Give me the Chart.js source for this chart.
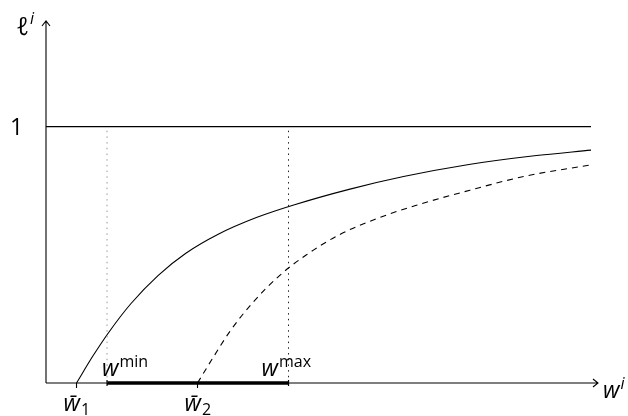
<!DOCTYPE html>
<html>
<head>
<meta charset="utf-8">
<script src="https://cdn.jsdelivr.net/npm/chart.js@4/dist/chart.umd.min.js"></script>
<style>
  body { margin: 0; background: #fff; }
</style>
</head>
<body>
<canvas id="myChart" width="628" height="416"></canvas>
<script>
// DATA
// wage axis runs 0..10, labour supply 0..1.4
var solidX = [0.56, 0.86, 1.16, 1.56, 2.06, 2.56, 3.16, 3.86, 4.56, 5.56, 6.56, 7.76, 8.96, 10.0];
var solidY = [0, 0.105, 0.20, 0.31, 0.42, 0.505, 0.58, 0.645, 0.695, 0.755, 0.805, 0.852, 0.886, 0.908];
var dashedX = [2.78, 3.08, 3.38, 3.78, 4.28, 4.78, 5.38, 6.08, 6.78, 7.78, 8.78, 10.0];
var dashedY = [0, 0.104, 0.203, 0.31, 0.418, 0.50, 0.578, 0.642, 0.692, 0.752, 0.806, 0.851];
var wBar = [0.56, 2.78];      // w̄1, w̄2
var wRange = [1.12, 4.45];    // w^min, w^max
var oneLevel = 1;
var xEnd = 10, yEnd = 1.4;

function pts(xs, ys) {
    return xs.map(function (x, i) { return { x: x, y: ys[i] }; });
}

var FONT = '"Open Sans", "DejaVu Sans", sans-serif';

// draws base text followed by a raised/lowered smaller part
function mathLabel(ctx, x, y, base, small, dy, size) {
    ctx.font = 'italic ' + (size || 23) + 'px ' + FONT;
    ctx.fillText(base, x, y);
    var w = ctx.measureText(base).width;
    ctx.font = (/^[a-z]$/.test(small) ? 'italic ' : '') + '16px ' + FONT;
    ctx.fillText(small, x + w + 1, y + dy);
}

var axesPlugin = {
    id: 'axes',
    beforeDatasetsDraw: function (chart) {
        var ctx = chart.ctx;
        var xs = chart.scales.x, ys = chart.scales.y;
        var x0 = xs.getPixelForValue(0), y0 = ys.getPixelForValue(0);
        var xe = xs.getPixelForValue(xEnd) + 7, ye = ys.getPixelForValue(yEnd) - 3;
        ctx.save();
        ctx.strokeStyle = '#000';
        ctx.lineWidth = 1.1;
        ctx.beginPath();
        ctx.moveTo(x0, y0); ctx.lineTo(xe, y0);
        ctx.moveTo(x0, y0); ctx.lineTo(x0, ye);
        // arrow heads
        ctx.moveTo(xe - 5, y0 - 4); ctx.lineTo(xe, y0); ctx.lineTo(xe - 5, y0 + 4);
        ctx.moveTo(x0 - 4, ye + 5); ctx.lineTo(x0, ye); ctx.lineTo(x0 + 4, ye + 5);
        // small ticks at w̄1, w̄2
        wBar.forEach(function (v) {
            var p = xs.getPixelForValue(v);
            ctx.moveTo(p, y0); ctx.lineTo(p, y0 + 5);
        });
        ctx.stroke();
        ctx.restore();
    },
    afterDraw: function (chart) {
        var ctx = chart.ctx;
        var xs = chart.scales.x, ys = chart.scales.y;
        var y0 = ys.getPixelForValue(0);
        ctx.save();
        // end bars of the thick segment
        ctx.strokeStyle = '#000';
        ctx.lineWidth = 1.2;
        ctx.beginPath();
        wRange.forEach(function (v) {
            var p = xs.getPixelForValue(v);
            ctx.moveTo(p, y0 - 3); ctx.lineTo(p, y0 + 3);
        });
        ctx.stroke();

        ctx.fillStyle = '#000';
        ctx.textBaseline = 'alphabetic';
        ctx.textAlign = 'left';
        // y axis label
        mathLabel(ctx, 16, 35, '\u2113', 'i', -11, 25);
        // level 1
        ctx.font = '23px ' + FONT;
        ctx.fillText('1', 10, ys.getPixelForValue(oneLevel) + 8);
        // w^min, w^max
        mathLabel(ctx, xs.getPixelForValue(wRange[0]) - 5, y0 - 7, 'w', 'min', -9);
        mathLabel(ctx, xs.getPixelForValue(wRange[1]) - 27, y0 - 7, 'w', 'max', -9);
        // w̄1, w̄2
        mathLabel(ctx, xs.getPixelForValue(wBar[0]) - 13, y0 + 28, 'w\u0304', '1', 4);
        mathLabel(ctx, xs.getPixelForValue(wBar[1]) - 13, y0 + 28, 'w\u0304', '2', 4);
        // x axis label
        mathLabel(ctx, xs.getPixelForValue(xEnd) + 12, y0 + 15, 'w', 'i', -9);
        ctx.restore();
    }
};

var ctx = document.getElementById('myChart').getContext('2d');
var chart = new Chart(ctx, {
    type: 'scatter',
    data: {
        datasets: [
            {
                data: pts([0, xEnd], [oneLevel, oneLevel]),
                borderColor: '#000', borderWidth: 1.3
            },
            {
                data: pts([wRange[0], wRange[0]], [0, oneLevel]),
                borderColor: '#999', borderWidth: 1, borderDash: [1.5, 4.2]
            },
            {
                data: pts([wRange[1], wRange[1]], [0, oneLevel]),
                borderColor: '#222', borderWidth: 1, borderDash: [1.5, 4.2]
            },
            {
                data: pts(solidX, solidY),
                borderColor: '#000', borderWidth: 1.1,
                cubicInterpolationMode: 'monotone'
            },
            {
                data: pts(dashedX, dashedY),
                borderColor: '#000', borderWidth: 1.1, borderDash: [6, 5],
                cubicInterpolationMode: 'monotone'
            },
            {
                data: pts(wRange, [0, 0]),
                borderColor: '#000', borderWidth: 3.5
            }
        ]
    },
    options: {
        responsive: false,
        animation: false,
        devicePixelRatio: 1,
        showLine: true,
        clip: false,
        elements: { point: { radius: 0 } },
        layout: { padding: { left: 46, right: 37, top: 24, bottom: 33 } },
        scales: {
            x: { type: 'linear', min: 0, max: xEnd, display: false },
            y: { type: 'linear', min: 0, max: yEnd, display: false }
        },
        plugins: { legend: { display: false }, tooltip: { enabled: false } }
    },
    plugins: [axesPlugin]
});
</script>
</body>
</html>
